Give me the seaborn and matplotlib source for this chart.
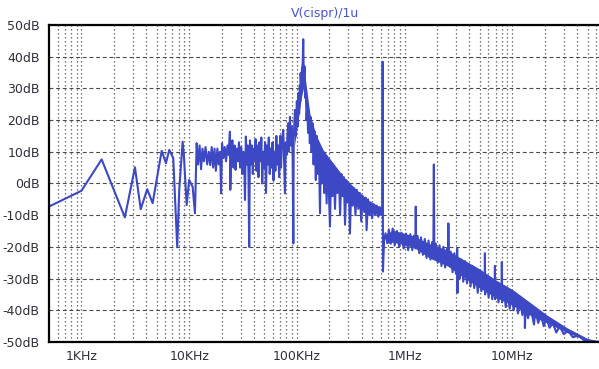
import numpy as np
import pandas as pd
import matplotlib
matplotlib.use('Agg')
import matplotlib.pyplot as plt
import matplotlib.ticker as mticker
import seaborn as sns

# trace (Hz, dB)
low_freq = [505, 1000, 1540, 2530, 3140, 3550, 4080, 4580, 5560, 6090, 6540, 7120,
            7540, 7750, 8090, 8700, 8950, 9480, 10000, 10770, 11320, 11740,
            12100, 12500, 12900, 13300, 13700, 14200, 14700, 15200, 15700, 16200,
            16700, 17200, 17700, 18300, 18800, 19400, 19800, 20200, 20800, 21400,
            22000, 22700, 23300, 23900, 24100, 24600, 25200, 25800, 26400, 27000,
            27600, 28300, 29000, 29700, 30400, 31200, 31900, 32500, 33000, 33600,
            34300, 35000, 35500, 36100, 36700, 37400, 38200, 39000, 39800, 40600,
            41400, 42200, 43100, 44000, 44900, 45800, 46800, 47700, 48700, 49700,
            50700, 51700, 52700, 53800, 54900, 56000, 57100, 58300, 59500, 60700,
            61900, 63200, 64500, 65800, 67100, 68500, 69900, 71300, 72700, 74800,
            77500, 79000, 80500, 81800, 83200, 84600, 86300, 88000, 89500, 91400,
            92700, 93500]
low_db = [-7.2, -2.3, 7.6, -10.7, 5.1, -8.1, -1.8, -6.2, 10.3, 6.4, 10.6, 8.0,
          -10.7, -20.1, -2.0, 13.2, 8.5, -6.8, 1.1, -1.0, -9.4, 12.7,
          6.0, 12.0, 4.5, 11.0, 7.0, 11.5, 6.0, 10.0, 5.8, 11.5,
          5.0, 11.0, 4.0, 11.0, 6.0, 10.0, -3.1, 12.7, 8.0, 11.5,
          7.0, 12.0, 9.0, 16.3, -2.0, 10.0, 13.6, 5.0, 12.0, 4.3,
          11.0, 7.0, 13.0, 5.0, 11.5, 3.0, 10.0, 6.0, -5.2, 14.8,
          6.0, 12.0, 4.0, -20.0, 13.6, 6.0, 12.0, 3.0, 11.0, 7.5,
          14.0, 4.0, 12.0, 2.0, 13.0, 7.0, 14.5, 0.0, 10.0, 5.0,
          13.0, -3.0, 12.0, 6.0, 14.5, 3.0, 11.0, 5.0, 13.0, 1.0,
          10.0, 4.0, 15.0, 6.0, 12.0, 2.0, 15.0, 5.0, 14.0, 16.9,
          -3.1, 13.0, 9.0, 15.0, 19.0, 10.0, 21.0, 12.0, 18.0, 8.5,
          -18.9, 14.0]

peak_freq = [96000, 98000, 100000, 102000, 103000, 105000, 106500, 107500, 108400,
             110000, 111500, 113200, 114600, 116000, 118000, 119500, 121400, 123000,
             125000, 127000, 129000, 132000, 134000, 137000, 140000, 143000, 146000,
             150000, 153000, 157000, 160000, 164000, 167000, 171000, 176000, 180000,
             184000, 189000, 193000, 198000, 203000, 208000, 214000, 220000, 226000,
             232000, 238000, 245000, 252000, 259000, 266000, 273000, 280000, 288000,
             296000, 304000, 311000, 320000, 330000, 340000, 350000, 360000, 372000,
             384000, 396000, 408000, 422000, 436000, 444000, 458000, 472000, 486000,
             500000, 516000, 532000, 550000, 570000, 590000, 615000, 622000, 626000,
             630000, 645000]
peak_db = [23.2, 15.0, 26.0, 18.0, 28.5, 22.0, 31.0, 26.0, 34.8,
           30.0, 36.0, 37.9, 45.5, 33.0, 36.9, 27.0, 29.5, 20.0,
           25.0, 16.0, 23.0, 12.7, 21.0, 10.0, 19.0, 6.0, 16.5,
           1.1, 15.0, 3.0, 12.0, -9.4, 11.0, 0.0, 10.0, -3.0,
           8.5, -6.3, 7.5, -2.0, -13.6, 6.0, -4.0, 5.5, -8.0,
           4.5, -3.0, 3.5, -10.0, 3.0, -4.0, 2.0, -13.0, 1.0,
           -6.0, 0.0, -15.8, -1.0, -7.0, -1.5, -10.0, -2.0, -8.0,
           -3.0, -12.0, -4.0, -9.0, -4.5, -14.7, -5.0, -10.0, -6.0,
           -11.0, -6.5, -10.0, -7.0, -10.5, -7.5, -9.0, -10.0, 38.4,
           -27.8, -18.0]

hf_freq = [665e3, 690e3, 715e3, 745e3, 775e3, 810e3, 850e3, 890e3, 935e3, 980e3,
           1.03e6, 1.08e6, 1.13e6, 1.18e6, 1.22e6, 1.265e6, 1.27e6, 1.275e6, 1.32e6,
           1.37e6, 1.42e6, 1.48e6, 1.54e6, 1.60e6, 1.67e6, 1.74e6, 1.80e6, 1.85e6,
           1.87e6, 1.89e6, 1.95e6, 2.03e6, 2.11e6, 2.20e6, 2.29e6, 2.38e6, 2.47e6,
           2.53e6, 2.55e6, 2.58e6, 2.68e6, 2.79e6, 2.90e6, 3.00e6, 3.06e6, 3.08e6,
           3.10e6, 3.14e6, 3.26e6, 3.38e6, 3.51e6, 3.65e6, 3.80e6, 3.95e6, 4.10e6,
           4.26e6, 4.43e6, 4.60e6, 4.78e6, 4.97e6, 5.17e6, 5.38e6, 5.55e6, 5.57e6,
           5.60e6, 5.80e6, 6.03e6, 6.27e6, 6.52e6, 6.78e6, 6.88e6, 6.90e6, 6.93e6,
           7.15e6, 7.45e6, 7.75e6, 7.97e6, 8.00e6, 8.03e6, 8.35e6, 8.70e6, 9.05e6,
           9.45e6, 9.85e6, 10.3e6, 10.8e6, 11.3e6, 11.8e6, 12.4e6, 13.0e6, 13.1e6,
           13.3e6, 14.0e6, 14.8e6, 15.6e6, 15.9e6, 16.4e6, 17.4e6, 18.4e6, 19.6e6,
           20.8e6, 22.2e6, 23.8e6, 25.6e6, 27.6e6, 30.0e6, 33.0e6, 36.5e6, 41.0e6,
           47.0e6, 55.0e6, 66.0e6]
hf_db = [-15.7, -18.5, -14.5, -19.0, -14.2, -19.5, -15.0, -20.0, -15.5, -20.5,
         -15.8, -21.0, -16.0, -21.0, -16.5, -20.5, -7.3, -19.0, -16.5,
         -22.0, -17.0, -22.5, -17.5, -23.5, -18.0, -24.0, -18.5, -21.0,
         6.0, -22.5, -19.0, -25.0, -19.5, -26.0, -20.0, -26.5, -20.5,
         -24.0, -12.6, -25.0, -21.5, -28.0, -22.0, -28.5, -25.0, -20.6,
         -34.5, -23.5, -30.0, -24.0, -31.0, -24.5, -31.5, -25.5, -32.5,
         -26.0, -33.0, -27.0, -34.5, -27.5, -34.0, -28.5, -31.0, -22.0,
         -35.0, -29.5, -36.0, -30.0, -36.5, -31.0, -34.0, -26.0, -36.5,
         -31.5, -37.5, -32.0, -35.0, -24.8, -37.5, -33.0, -39.0, -33.5,
         -39.5, -34.5, -40.0, -35.5, -41.0, -36.5, -41.5, -38.0, -45.6,
         -38.5, -42.5, -39.0, -43.0, -44.5, -40.0, -44.0, -41.5, -45.0,
         -42.5, -45.5, -44.0, -47.0, -45.0, -47.5, -46.5, -48.5, -48.0,
         -49.6, -49.7, -50.0]

# solid parts of the trace (upper / lower edge)
decay_freq = [95e3, 100e3, 110e3, 115e3, 120e3, 132e3, 150e3, 176e3, 218e3, 270e3,
              359e3, 477e3, 591e3, 620e3]
decay_hi = [20, 25, 35, 38, 33, 22, 15.5, 10.5, 6.4, 2.2, -2, -5.7, -7.3, -7.5]
decay_lo = [12, 17, 27, 30, 24, 13, 6.5, 1.5, -1, -3, -6, -9, -10, -10]

band_freq = [670e3, 780e3, 1.2e6, 1.7e6, 2.5e6, 3.5e6, 5.0e6, 7.1e6, 10.1e6, 14.6e6,
             21e6, 32.2e6, 49.4e6, 61e6, 66e6]
band_hi = [-16, -14.7, -16.5, -19, -21, -24, -27, -30.5, -33.5, -37.5, -41.5, -45.5,
           -48.8, -49.6, -49.8]
band_lo = [-19, -18.5, -20, -23.5, -26, -29.5, -33, -36, -38.5, -41.5, -44, -47,
           -49.6, -50, -50]

x_ticks = [1e3, 1e4, 1e5, 1e6, 1e7]
x_labels = ['1KHz', '10KHz', '100KHz', '1MHz', '10MHz']
y_ticks = list(range(-50, 51, 10))
y_labels = ['%ddB' % v for v in y_ticks]

trace = pd.DataFrame({'freq': low_freq + peak_freq + hf_freq,
                      'db': low_db + peak_db + hf_db})

blue = '#3c48c4'
txt = '#30303c'

sns.set_style('white')
plt.rcParams['font.family'] = ['DejaVu Sans']

fig = plt.figure(figsize=(5.99, 3.69), dpi=100)
ax = fig.add_axes([0.0826, 0.0732, 0.9200, 0.8591])

ax.fill_between(decay_freq, decay_lo, decay_hi, color=blue, lw=0)
ax.fill_between(band_freq, band_lo, band_hi, color=blue, lw=0)
sns.lineplot(data=trace, x='freq', y='db', sort=False, estimator=None,
             color=blue, lw=1.5, ax=ax)

ax.set_xscale('log')
ax.set_xlim(505, 66e6)
ax.set_ylim(-50, 50)
ax.set_xlabel('')
ax.set_ylabel('')

ax.set_xticks(x_ticks)
ax.set_xticklabels(x_labels)
ax.xaxis.set_minor_locator(mticker.LogLocator(base=10, subs=np.arange(2, 10)))
ax.xaxis.set_minor_formatter(mticker.NullFormatter())
ax.set_yticks(y_ticks)
ax.set_yticklabels(y_labels)

ax.tick_params(axis='x', which='major', direction='inout', length=9, width=1.3,
               color='black', labelsize=9, labelcolor=txt, pad=1)
ax.tick_params(axis='x', which='minor', direction='inout', length=6, width=1.1,
               color='black')
ax.tick_params(axis='y', which='major', direction='out', length=6, width=1.3,
               color='black', labelsize=9, labelcolor=txt, pad=1)

ax.grid(which='major', axis='y', ls=(0, (3.5, 2.5)), color='#4a4a4a', lw=0.8)
ax.grid(which='both', axis='x', ls=(0, (1, 2.2)), color='#4a4a4a', lw=0.9)
ax.set_axisbelow(True)

for side in ['left', 'bottom', 'top']:
    ax.spines[side].set_linewidth(1.6)
    ax.spines[side].set_color('black')
ax.spines['right'].set_visible(False)

fig.text(325 / 599, 1 - 13 / 369, 'V(cispr)/1u', color='#4a55c8', fontsize=9,
         ha='center', va='center')

fig.savefig('out.png', dpi=100)
